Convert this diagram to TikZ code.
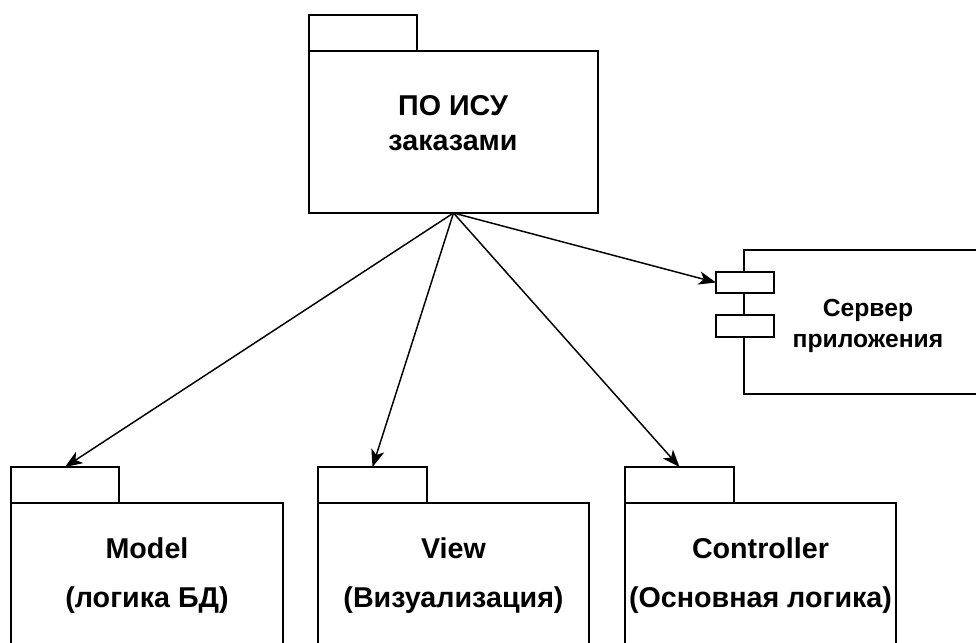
\documentclass[tikz,border=0pt]{standalone}
\usepackage{fontspec}
\setmainfont{Liberation Sans}
\usetikzlibrary{arrows.meta}
\begin{document}
\begin{tikzpicture}[x=0.75pt,y=-0.75pt,
  shapebox/.style={draw=black,line width=1.1pt,fill=white,inner sep=0pt,outer sep=0pt,rectangle},
  bigtext/.style={font=\bfseries\fontsize{21.5}{24}\selectfont,anchor=base,inner sep=0pt},
  smalltext/.style={font=\bfseries\fontsize{18.5}{21}\selectfont,anchor=base,inner sep=0pt},
  conn/.style={draw=black,line width=1.1pt,-{Stealth[length=13pt,width=10pt,inset=3.5pt]}}]
\useasboundingbox (0,0) rectangle (976,643);
\clip (0,0) rectangle (976,643);
% top package
\node[shapebox,minimum width=108*0.75pt,minimum height=36*0.75pt] (toptab) at (363,33) {};
\node[shapebox,minimum width=289*0.75pt,minimum height=162*0.75pt] (top) at (453.5,132) {};
\node[bigtext] (toptxta) at (453,115) {ПО ИСУ};
\node[bigtext] (toptxtb) at (453,150) {заказами};
% model
\node[shapebox,minimum width=108*0.75pt,minimum height=36*0.75pt] (modeltab) at (65,485) {};
\node[shapebox,minimum width=272*0.75pt,minimum height=180*0.75pt] (model) at (147,593) {};
\node[bigtext] (modela) at (147,558) {Model};
\node[bigtext] (modelb) at (147,607) {(логика БД)};
% view
\node[shapebox,minimum width=109*0.75pt,minimum height=36*0.75pt] (viewtab) at (372.5,485) {};
\node[shapebox,minimum width=271*0.75pt,minimum height=180*0.75pt] (view) at (453.5,593) {};
\node[bigtext] (viewa) at (453.5,558) {View};
\node[bigtext] (viewb) at (453.5,607) {(Визуализация)};
% controller
\node[shapebox,minimum width=109*0.75pt,minimum height=36*0.75pt] (ctrltab) at (679.5,485) {};
\node[shapebox,minimum width=271*0.75pt,minimum height=180*0.75pt] (ctrl) at (760.5,593) {};
\node[bigtext] (ctrla) at (760.5,558) {Controller};
\node[bigtext] (ctrlb) at (760.5,607) {(Основная логика)};
% server component
\node[shapebox,minimum width=246*0.75pt,minimum height=144*0.75pt] (server) at (867,322) {};
\node[shapebox,minimum width=58*0.75pt,minimum height=21*0.75pt] (port1) at (745,282.5) {};
\node[shapebox,minimum width=58*0.75pt,minimum height=22*0.75pt] (port2) at (745,326) {};
\node[smalltext] (srva) at (868,316) {Сервер};
\node[smalltext] (srvb) at (868,347) {приложения};
% connectors
\draw[conn] (top.south) -- (modeltab.north);
\draw[conn] (top.south) -- (viewtab.north);
\draw[conn] (top.south) -- (ctrltab.north);
\draw[conn] (top.south) -- (port1.west);
\end{tikzpicture}
\end{document}
